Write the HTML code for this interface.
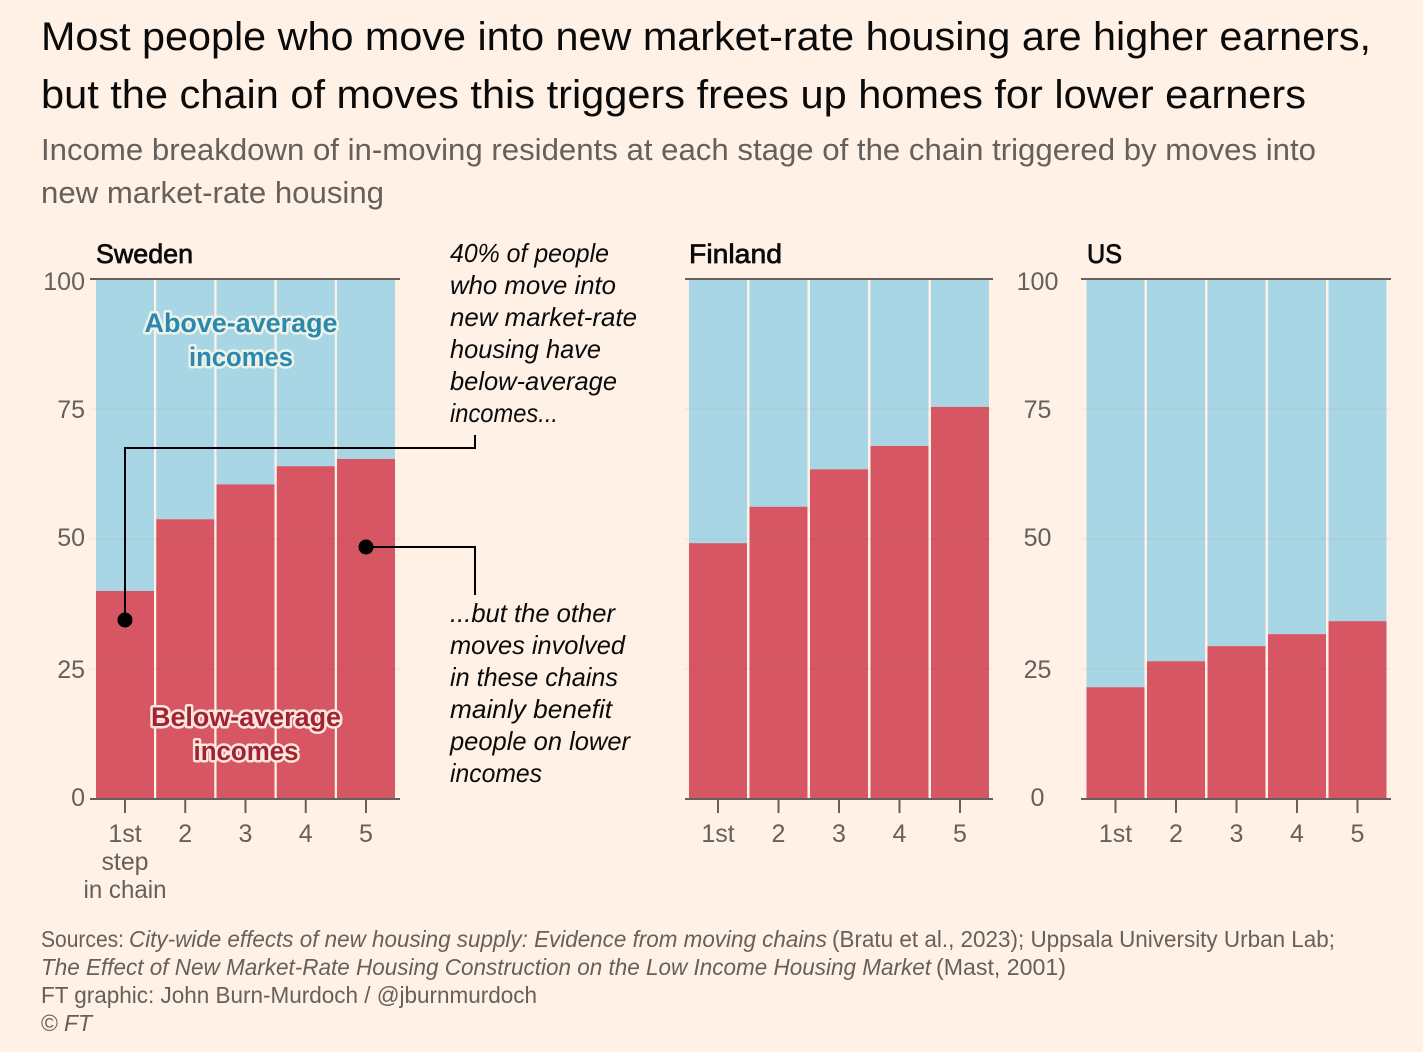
<!DOCTYPE html>
<html lang="en">
<head>
<meta charset="utf-8">
<title>Moving chains and income breakdown</title>
<style>
html,body{margin:0;padding:0;background:#fff1e5;}
svg{display:block;font-family:"Liberation Sans",sans-serif;}
.title{font-size:40px;fill:#0a0a0a;}
.sub{font-size:31px;fill:#66605c;}
.panel-title{font-size:27px;fill:#0a0a0a;font-weight:400;stroke:#0a0a0a;stroke-width:.7px;}
.note{font-size:26px;font-style:italic;fill:#0a0a0a;}
.foot{font-size:23px;fill:#66605c;}
.it{font-style:italic;}
.tick{font-size:25px;fill:#66605c;}
.above{font-size:27px;font-weight:700;fill:#2b88ae;stroke:#eef3ea;stroke-width:5px;paint-order:stroke;stroke-linejoin:round;}
.below{font-size:27px;font-weight:700;fill:#a2232f;stroke:#fbe6df;stroke-width:5px;paint-order:stroke;stroke-linejoin:round;}
</style>
</head>
<body>
<svg id="chart" width="1423" height="1052" viewBox="0 0 1423 1052" xmlns="http://www.w3.org/2000/svg">
  <rect width="1423" height="1052" fill="#fff1e5"/>
  <g>
    <text class="title" x="41" y="50" textLength="1330" lengthAdjust="spacingAndGlyphs">Most people who move into new market-rate housing are higher earners,</text>
    <text class="title" x="41" y="108" textLength="1265" lengthAdjust="spacingAndGlyphs">but the chain of moves this triggers frees up homes for lower earners</text>
  </g>
  <g>
    <text class="sub" x="41" y="160" textLength="1275" lengthAdjust="spacingAndGlyphs">Income breakdown of in-moving residents at each stage of the chain triggered by moves into</text>
    <text class="sub" x="41" y="203" textLength="343" lengthAdjust="spacingAndGlyphs">new market-rate housing</text>
  </g>
  <g id="panels"></g>
  <text class="above" x="241" y="332" text-anchor="middle" textLength="193" lengthAdjust="spacingAndGlyphs">Above-average</text>
  <text class="above" x="241" y="366" text-anchor="middle" textLength="104" lengthAdjust="spacingAndGlyphs">incomes</text>
  <text class="below" x="246" y="726" text-anchor="middle" textLength="190" lengthAdjust="spacingAndGlyphs">Below-average</text>
  <text class="below" x="246" y="760" text-anchor="middle" textLength="105" lengthAdjust="spacingAndGlyphs">incomes</text>
  <g>
    <text class="note" x="450" y="262" textLength="159" lengthAdjust="spacingAndGlyphs">40% of people</text>
    <text class="note" x="450" y="294" textLength="166" lengthAdjust="spacingAndGlyphs">who move into</text>
    <text class="note" x="450" y="326" textLength="187" lengthAdjust="spacingAndGlyphs">new market-rate</text>
    <text class="note" x="450" y="358" textLength="151" lengthAdjust="spacingAndGlyphs">housing have</text>
    <text class="note" x="450" y="390" textLength="167" lengthAdjust="spacingAndGlyphs">below-average</text>
    <text class="note" x="450" y="422" textLength="108" lengthAdjust="spacingAndGlyphs">incomes...</text>
  </g>
  <g>
    <text class="note" x="450" y="622" textLength="165" lengthAdjust="spacingAndGlyphs">...but the other</text>
    <text class="note" x="450" y="654" textLength="175" lengthAdjust="spacingAndGlyphs">moves involved</text>
    <text class="note" x="450" y="686" textLength="168" lengthAdjust="spacingAndGlyphs">in these chains</text>
    <text class="note" x="450" y="718" textLength="162" lengthAdjust="spacingAndGlyphs">mainly benefit</text>
    <text class="note" x="450" y="750" textLength="180" lengthAdjust="spacingAndGlyphs">people on lower</text>
    <text class="note" x="450" y="782" textLength="92" lengthAdjust="spacingAndGlyphs">incomes</text>
  </g>
  <path d="M125 620V448H475V435" fill="none" stroke="#000" stroke-width="2"/>
  <circle cx="125" cy="620" r="7.5" fill="#000"/>
  <path d="M366 547H475V595" fill="none" stroke="#000" stroke-width="2"/>
  <circle cx="366" cy="547" r="7.5" fill="#000"/>
  <g>
    <text class="tick" x="125" y="870" text-anchor="middle" textLength="47" lengthAdjust="spacingAndGlyphs">step</text>
    <text class="tick" x="125" y="898" text-anchor="middle" textLength="83" lengthAdjust="spacingAndGlyphs">in chain</text>
  </g>
  <g>
    <text class="foot" x="41" y="947" textLength="83" lengthAdjust="spacingAndGlyphs">Sources:</text>
    <text class="foot it" x="129" y="947" textLength="698" lengthAdjust="spacingAndGlyphs">City-wide effects of new housing supply: Evidence from moving chains</text>
    <text class="foot" x="832" y="947" textLength="503" lengthAdjust="spacingAndGlyphs">(Bratu et al., 2023); Uppsala University Urban Lab;</text>
    <text class="foot it" x="41" y="975" textLength="890" lengthAdjust="spacingAndGlyphs">The Effect of New Market-Rate Housing Construction on the Low Income Housing Market</text>
    <text class="foot" x="936" y="975" textLength="130" lengthAdjust="spacingAndGlyphs">(Mast, 2001)</text>
    <text class="foot" x="41" y="1003" textLength="496" lengthAdjust="spacingAndGlyphs">FT graphic: John Burn-Murdoch / @jburnmurdoch</text>
    <text class="foot" x="41" y="1031">©</text>
    <text class="foot it" x="64" y="1031" textLength="28" lengthAdjust="spacingAndGlyphs">FT</text>
  </g>
</svg>
<script>
const categories = ['1st', '2', '3', '4', '5'];
const yTicks = [0, 25, 50, 75, 100];
const sweden = [40, 53.8, 60.5, 64, 65.4];
const finland = [49.2, 56.2, 63.4, 67.9, 75.4];
const us = [21.5, 26.5, 29.4, 31.7, 34.2];

const NS = 'http://www.w3.org/2000/svg';
const root = document.getElementById('panels');
const yScale = v => 799 - v * 5.2;
const BAR_W = 58;
const labelOffset = v => (v === 100 ? 11 : (v === 0 || v === 50) ? 7 : 9);

function make(tag, parent) {
  const el = document.createElementNS(NS, tag);
  parent.appendChild(el);
  return el;
}

function drawPanel(key, title, values, left, band, axisL, axisR, titleX, titleW, labelX, anchor) {
  const xScale = i => left + i * band;
  const g = make('g', root);
  
  

  const t = make('text', g);
  
  
  t.setAttribute('class', 'panel-title');
  t.setAttribute('x', titleX);
  t.setAttribute('y', 263);
  t.setAttribute('textLength', titleW);
  t.setAttribute('lengthAdjust', 'spacingAndGlyphs');
  t.textContent = title;

  values.forEach((v, i) => {
    const blue = make('rect', g);
    
    
    blue.setAttribute('x', xScale(i));
    blue.setAttribute('y', yScale(100));
    blue.setAttribute('width', BAR_W);
    blue.setAttribute('height', yScale(v) - yScale(100));
    blue.setAttribute('fill', '#a9d6e5');

    const red = make('rect', g);
    
    
    red.setAttribute('x', xScale(i));
    red.setAttribute('y', yScale(v));
    red.setAttribute('width', BAR_W);
    red.setAttribute('height', yScale(0) - yScale(v));
    red.setAttribute('fill', '#d75663');

    const tick = make('line', g);
    
    
    tick.setAttribute('x1', xScale(i) + BAR_W / 2);
    tick.setAttribute('x2', xScale(i) + BAR_W / 2);
    tick.setAttribute('y1', yScale(0));
    tick.setAttribute('y2', yScale(0) + 14);
    tick.setAttribute('stroke', '#66605c');
    tick.setAttribute('stroke-width', 2);

    const lab = make('text', g);
    
    
    lab.setAttribute('class', 'tick');
    lab.setAttribute('x', xScale(i) + BAR_W / 2);
    lab.setAttribute('y', 842);
    lab.setAttribute('text-anchor', 'middle');
    lab.textContent = categories[i];
  });

  yTicks.forEach(v => {
    const line = make('line', g);
    const isEdge = v === 0 || v === 100;
    
    
    line.setAttribute('x1', axisL);
    line.setAttribute('x2', axisR);
    line.setAttribute('y1', yScale(v));
    line.setAttribute('y2', yScale(v));
    line.setAttribute('stroke', isEdge ? '#66605c' : 'rgba(102,96,92,0.05)');
    line.setAttribute('stroke-width', 2);

    if (labelX !== null) {
      const lab = make('text', g);
      
      
      lab.setAttribute('class', 'tick');
      lab.setAttribute('x', labelX);
      lab.setAttribute('y', yScale(v) + labelOffset(v));
      lab.setAttribute('text-anchor', anchor);
      lab.textContent = v;
    }
  });
}

drawPanel('sweden', 'Sweden', sweden, 96, 60.25, 90, 400, 96, 97, 85, 'end');
drawPanel('finland', 'Finland', finland, 689, 60.5, 685, 993, 689, 93, null, 'end');
drawPanel('us', 'US', us, 1086.5, 60.5, 1081, 1391, 1087, 35, 1037.5, 'middle');
</script>
</body>
</html>
